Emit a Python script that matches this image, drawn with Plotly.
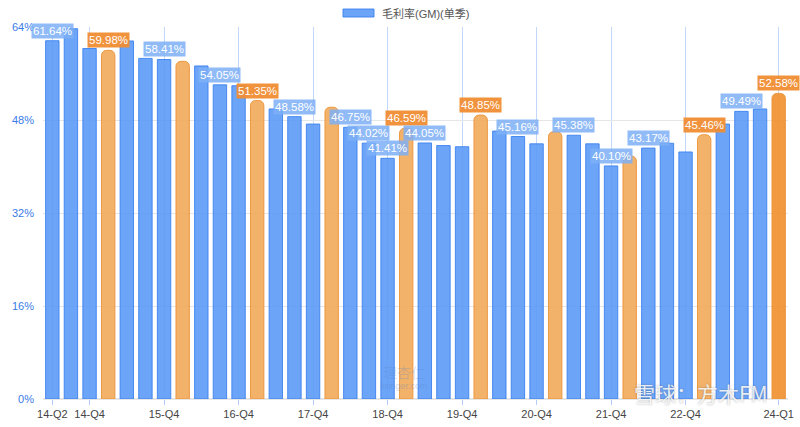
import plotly.graph_objects as go

quarters = [
    "14-Q2", "14-Q3", "14-Q4",
    "15-Q1", "15-Q2", "15-Q3", "15-Q4",
    "16-Q1", "16-Q2", "16-Q3", "16-Q4",
    "17-Q1", "17-Q2", "17-Q3", "17-Q4",
    "18-Q1", "18-Q2", "18-Q3", "18-Q4",
    "19-Q1", "19-Q2", "19-Q3", "19-Q4",
    "20-Q1", "20-Q2", "20-Q3", "20-Q4",
    "21-Q1", "21-Q2", "21-Q3", "21-Q4",
    "22-Q1", "22-Q2", "22-Q3", "22-Q4",
    "23-Q1", "23-Q2", "23-Q3", "23-Q4",
    "24-Q1",
]
gross_margin = [
    61.64, 63.7, 60.3,
    59.98, 61.6, 58.6, 58.41,
    58.1, 57.3, 54.05, 53.9,
    51.35, 49.9, 48.58, 47.3,
    50.2, 46.75, 44.02, 41.41,
    46.59, 44.05, 43.6, 43.4,
    48.85, 46.1, 45.16, 43.9,
    46.0, 45.38, 43.9, 40.10,
    41.8, 43.17, 44.0, 42.5,
    45.46, 47.3, 49.49, 49.9,
    52.58,
]
labeled = [
    "14-Q2", "15-Q1", "15-Q4", "16-Q3", "17-Q1", "17-Q3", "18-Q2", "18-Q3",
    "18-Q4", "19-Q1", "19-Q2", "20-Q1", "20-Q3", "21-Q2", "21-Q4", "22-Q2",
    "23-Q1", "23-Q3", "24-Q1",
]
tick_labels = ["14-Q2", "14-Q4", "15-Q4", "16-Q4", "17-Q4", "18-Q4",
               "19-Q4", "20-Q4", "21-Q4", "22-Q4", "24-Q1"]
y_ticks = [0, 16, 32, 48, 64]
legend_name = "毛利率(GM)(单季)"

FONT = "Liberation Sans, Noto Sans CJK SC, sans-serif"
CJK = "Noto Sans CJK SC, sans-serif"
BLUE = "rgba(88,152,246,0.88)"
BLUE_LINE = "rgba(60,130,240,0.9)"
ORANGE = "rgba(242,170,90,0.9)"
ORANGE_LINE = "rgba(236,150,60,0.95)"
ORANGE_LAST = "rgba(240,145,50,0.92)"

q1_x = [q for q in quarters if q.endswith("Q1")]
q1_y = [v for q, v in zip(quarters, gross_margin) if q.endswith("Q1")]
other_x = [q for q in quarters if not q.endswith("Q1")]
other_y = [v for q, v in zip(quarters, gross_margin) if not q.endswith("Q1")]
q1_colors = [ORANGE_LAST if q == quarters[-1] else ORANGE for q in q1_x]

fig = go.Figure()
fig.add_trace(go.Bar(
    x=other_x, y=other_y, name=legend_name, width=0.72,
    marker=dict(color=BLUE, line=dict(color=BLUE_LINE, width=1)),
    showlegend=False, hoverinfo="x+y",
))
fig.add_trace(go.Bar(
    x=q1_x, y=q1_y, name=legend_name, width=0.72,
    marker=dict(color=q1_colors, line=dict(color=ORANGE_LINE, width=1), cornerradius=5),
    showlegend=False, hoverinfo="x+y",
))

for q, v in zip(quarters, gross_margin):
    if q in labeled:
        is_q1 = q.endswith("Q1")
        fig.add_annotation(
            x=q, y=v, xref="x", yref="y", text=f"{v:.2f}%",
            showarrow=False, yanchor="bottom", yshift=2,
            font=dict(family=FONT, size=11.5, color="white"),
            bgcolor="rgba(240,140,50,0.95)" if is_q1 else "rgba(125,175,246,0.85)",
            borderpad=1,
        )

PLOT_L, PLOT_R, PLOT_T, PLOT_B = 43, 788, 27, 399.5
PW, PH = PLOT_R - PLOT_L, PLOT_B - PLOT_T


def px(x):
    return (x - PLOT_L) / PW


def py(y):
    return (PLOT_B - y) / PH


# legend drawn as a swatch + text at the top
fig.add_shape(type="rect", xref="paper", yref="paper",
              x0=px(343), x1=px(374), y0=py(17), y1=py(9),
              fillcolor="rgba(100,160,248,0.95)", line=dict(color="rgba(60,130,240,0.9)", width=1))
fig.add_annotation(xref="paper", yref="paper", x=px(380), y=py(13),
                   xanchor="left", yanchor="middle", showarrow=False, text=legend_name,
                   font=dict(family=FONT, size=11, color="#555555"))

# faint watermarks
fig.add_annotation(xref="paper", yref="paper", x=px(404), y=py(386),
                   xanchor="center", yanchor="middle", showarrow=False, text="lixinger.com",
                   font=dict(family=FONT, size=9, color="rgba(90,130,200,0.35)"))
fig.add_annotation(xref="paper", yref="paper", x=px(404), y=py(372),
                   xanchor="center", yanchor="middle", showarrow=False, text="理杏仁",
                   font=dict(family=CJK, size=14, color="rgba(90,130,200,0.25)"))
fig.add_annotation(xref="paper", yref="paper", x=px(632), y=py(393),
                   xanchor="left", yanchor="middle", showarrow=False, text="雪球：方木FM",
                   font=dict(family=CJK, size=21, color="rgba(255,255,255,0.85)",
                             shadow="0px 0px 2px rgba(80,80,80,0.6)"))

fig.update_layout(
    width=800, height=427,
    margin=dict(l=PLOT_L, r=800 - PLOT_R, t=PLOT_T, b=427 - PLOT_B, autoexpand=False),
    paper_bgcolor="white", plot_bgcolor="white",
    barmode="overlay", showlegend=False,
    font=dict(family=FONT, size=11, color="#444444"),
    xaxis=dict(
        type="category", categoryorder="array", categoryarray=quarters,
        range=[-0.5, len(quarters) - 0.5], automargin=False,
        tickmode="array", tickvals=tick_labels, ticktext=tick_labels,
        showgrid=True, gridcolor="rgba(170,200,245,0.7)", gridwidth=1,
        ticks="outside", ticklen=5, tickcolor="rgba(170,200,245,0.9)",
        tickfont=dict(family=FONT, size=11, color="#444444"),
        showline=False, zeroline=False,
    ),
    yaxis=dict(
        range=[0, 64], tickvals=y_ticks, ticktext=[f"{t}%" for t in y_ticks],
        automargin=False,
        showgrid=True, gridcolor="#e6e6e6", gridwidth=1,
        tickfont=dict(family=FONT, size=11, color="#3a7be8"),
        zeroline=True, zerolinecolor="#e6e6e6", showline=False,
        ticks="", ticklabelstandoff=8,
    ),
)

fig.write_html("out.html")
